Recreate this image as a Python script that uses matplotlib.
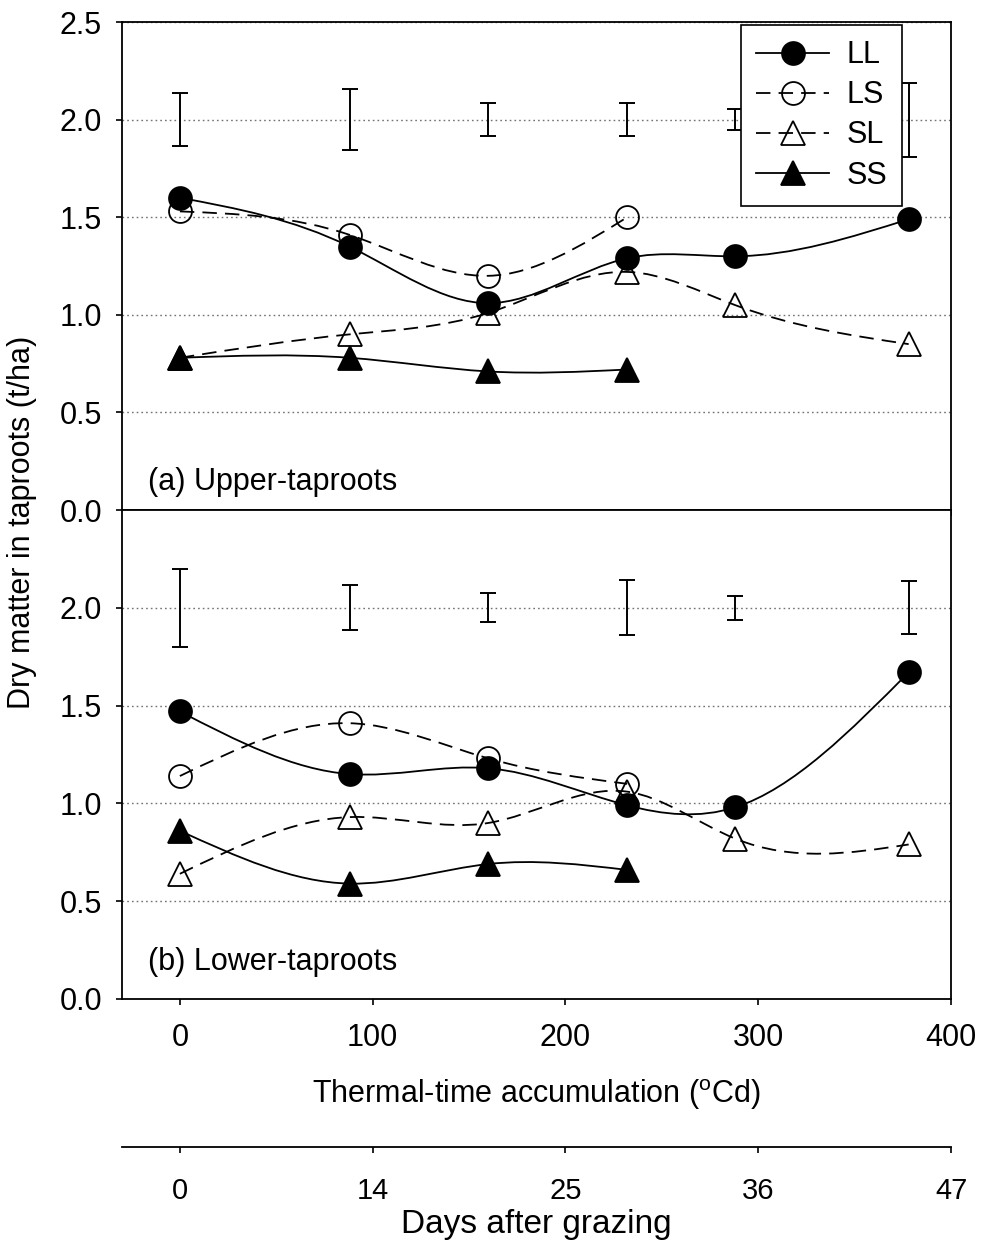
import numpy as np
import matplotlib
matplotlib.use("Agg")
import matplotlib.pyplot as plt
from matplotlib.path import Path
from matplotlib.patches import PathPatch
from matplotlib.lines import Line2D

plt.rcParams['font.family'] = 'Liberation Sans'
plt.rcParams['mathtext.fontset'] = 'custom'
plt.rcParams['mathtext.rm'] = 'Liberation Sans'

# thermal time at each harvest (oCd); LS and SS stop after the 4th harvest
tt = [0, 88, 160, 232, 288, 378]
tt_short = tt[:4]

# (a) upper taproots (t/ha)
upper_LL = [1.60, 1.35, 1.06, 1.29, 1.30, 1.49]
upper_LS = [1.53, 1.41, 1.20, 1.50]
upper_SL = [0.78, 0.90, 1.01, 1.22, 1.05, 0.85]
upper_SS = [0.78, 0.78, 0.71, 0.72]
upper_lsd = [0.27, 0.31, 0.17, 0.17, 0.11, 0.38]

# (b) lower taproots (t/ha)
lower_LL = [1.47, 1.15, 1.18, 0.99, 0.98, 1.67]
lower_LS = [1.14, 1.41, 1.23, 1.10]
lower_SL = [0.64, 0.93, 0.90, 1.06, 0.82, 0.79]
lower_SS = [0.86, 0.59, 0.69, 0.66]
lower_lsd = [0.40, 0.23, 0.15, 0.28, 0.12, 0.27]

lsd_centre = 2.0
days_ticks = [0, 100, 200, 300, 400]
days_labels = ['0', '14', '25', '36', '47']

DASH = (0, (8, 4.5))
style = {
    'LL': dict(marker='o', ms=16.5, mfc='k', ls='-'),
    'LS': dict(marker='o', ms=16.5, mfc='none', ls=DASH),
    'SL': dict(marker='^', ms=17, mfc='none', ls=DASH),
    'SS': dict(marker='^', ms=17, mfc='k', ls='-'),
}


def spline_slopes(x, y):
    # first derivatives of a natural cubic spline through the points
    n = len(x)
    h = np.diff(x)
    A = np.zeros((n, n))
    b = np.zeros(n)
    A[0, 0] = A[-1, -1] = 1
    for i in range(1, n - 1):
        A[i, i - 1] = h[i - 1]
        A[i, i] = 2 * (h[i - 1] + h[i])
        A[i, i + 1] = h[i]
        b[i] = 6 * ((y[i + 1] - y[i]) / h[i] - (y[i] - y[i - 1]) / h[i - 1])
    M = np.linalg.solve(A, b)
    m = np.zeros(n)
    for i in range(n - 1):
        m[i] = (y[i + 1] - y[i]) / h[i] - h[i] * (2 * M[i] + M[i + 1]) / 6
    m[-1] = (y[-1] - y[-2]) / h[-1] + h[-1] * (M[-2] + 2 * M[-1]) / 6
    return m


def smooth_path(x, y):
    # spline drawn as bezier segments
    x = np.asarray(x, float)
    y = np.asarray(y, float)
    m = spline_slopes(x, y)
    verts = [(x[0], y[0])]
    codes = [Path.MOVETO]
    for i in range(len(x) - 1):
        h = x[i + 1] - x[i]
        verts += [(x[i] + h / 3, y[i] + m[i] * h / 3),
                  (x[i + 1] - h / 3, y[i + 1] - m[i + 1] * h / 3),
                  (x[i + 1], y[i + 1])]
        codes += [Path.CURVE4] * 3
    return Path(verts, codes)


def panel(ax, series, lsd, label, yticks, label_y):
    ax.set_xlim(-30, 400)
    ax.set_ylim(0, 2.5)
    ax.set_yticks(yticks)
    ax.set_yticklabels(['%.1f' % v for v in yticks])
    ax.set_xticks(days_ticks)
    ax.set_axisbelow(True)
    ax.yaxis.grid(True, color='0.45', lw=1.0, ls=(0, (1.2, 2.2)))
    ax.tick_params(direction='out', length=4.5, width=1.2, labelsize=22,
                   top=False, right=False)
    ax.tick_params(axis='y', pad=10)
    ax.tick_params(axis='x', pad=13)
    for s in ax.spines.values():
        s.set_linewidth(1.3)

    ax.errorbar(tt, [lsd_centre] * len(lsd), yerr=np.array(lsd) / 2, fmt='none',
                ecolor='k', elinewidth=1.4, capsize=5.5, capthick=1.4, zorder=2)

    for name in ['LS', 'SL', 'LL', 'SS']:
        x, y = series[name]
        st = style[name]
        ax.add_patch(PathPatch(smooth_path(x, y), fill=False, ec='k', lw=1.3,
                               ls=st['ls'], zorder=3))
        ax.plot(x, y, ls='none', marker=st['marker'], ms=st['ms'],
                mfc=st['mfc'], mec='k', mew=1.3, zorder=4)

    ax.text(0.031, label_y, label, transform=ax.transAxes, fontsize=22,
            va='baseline', ha='left')


fig = plt.figure(figsize=(9.81, 12.55), dpi=100)
ax1 = fig.add_axes([0.1244, 0.5936, 0.8451, 0.3888])
ax2 = fig.add_axes([0.1244, 0.2040, 0.8451, 0.3896])

panel(ax1, {'LL': (tt, upper_LL), 'LS': (tt_short, upper_LS),
            'SL': (tt, upper_SL), 'SS': (tt_short, upper_SS)},
      upper_lsd, '(a) Upper-taproots', [0, 0.5, 1.0, 1.5, 2.0, 2.5], 0.041)
ax1.tick_params(axis='x', labelbottom=False)

panel(ax2, {'LL': (tt, lower_LL), 'LS': (tt_short, lower_LS),
            'SL': (tt, lower_SL), 'SS': (tt_short, lower_SS)},
      lower_lsd, '(b) Lower-taproots', [0, 0.5, 1.0, 1.5, 2.0], 0.059)

handles = []
for name in ['LL', 'LS', 'SL', 'SS']:
    st = style[name]
    handles.append(Line2D([], [], color='k', lw=1.3, ls=st['ls'], marker=st['marker'],
                          ms=st['ms'], mfc=st['mfc'], mec='k', mew=1.3))
leg = ax1.legend(handles, ['LL', 'LS', 'SL', 'SS'], loc='upper right',
                 bbox_to_anchor=(0.941, 0.994), fontsize=22, frameon=True,
                 fancybox=False, framealpha=1, edgecolor='k', borderaxespad=0,
                 handlelength=2.4, handletextpad=0.55, labelspacing=0.33,
                 borderpad=0.5)
leg.get_frame().set_linewidth(1.2)
leg.set_zorder(10)

# second x axis: days after grazing
ax3 = fig.add_axes([0.1244, 0.0861, 0.8451, 0.001])
ax3.set_facecolor('none')
for side in ['left', 'right', 'top']:
    ax3.spines[side].set_visible(False)
ax3.spines['bottom'].set_linewidth(1.3)
ax3.set_xlim(-30, 400)
ax3.set_yticks([])
ax3.set_xticks(days_ticks)
ax3.set_xticklabels(days_labels)
ax3.tick_params(axis='x', direction='out', length=4.5, width=1.2, labelsize=21, pad=17)

fig.text(22 / 981, 1 - 522 / 1255, 'Dry matter in taproots (t/ha)', rotation=90,
         ha='center', va='center', fontsize=22)
fig.text(536.5 / 981, 1 - 1103 / 1255, r'Thermal-time accumulation ($^{\mathrm{o}}$Cd)',
         ha='center', va='baseline', fontsize=22)
fig.text(536.5 / 981, 1 - 1233 / 1255, 'Days after grazing', ha='center',
         va='baseline', fontsize=24)

fig.savefig('out.png', dpi=100)
